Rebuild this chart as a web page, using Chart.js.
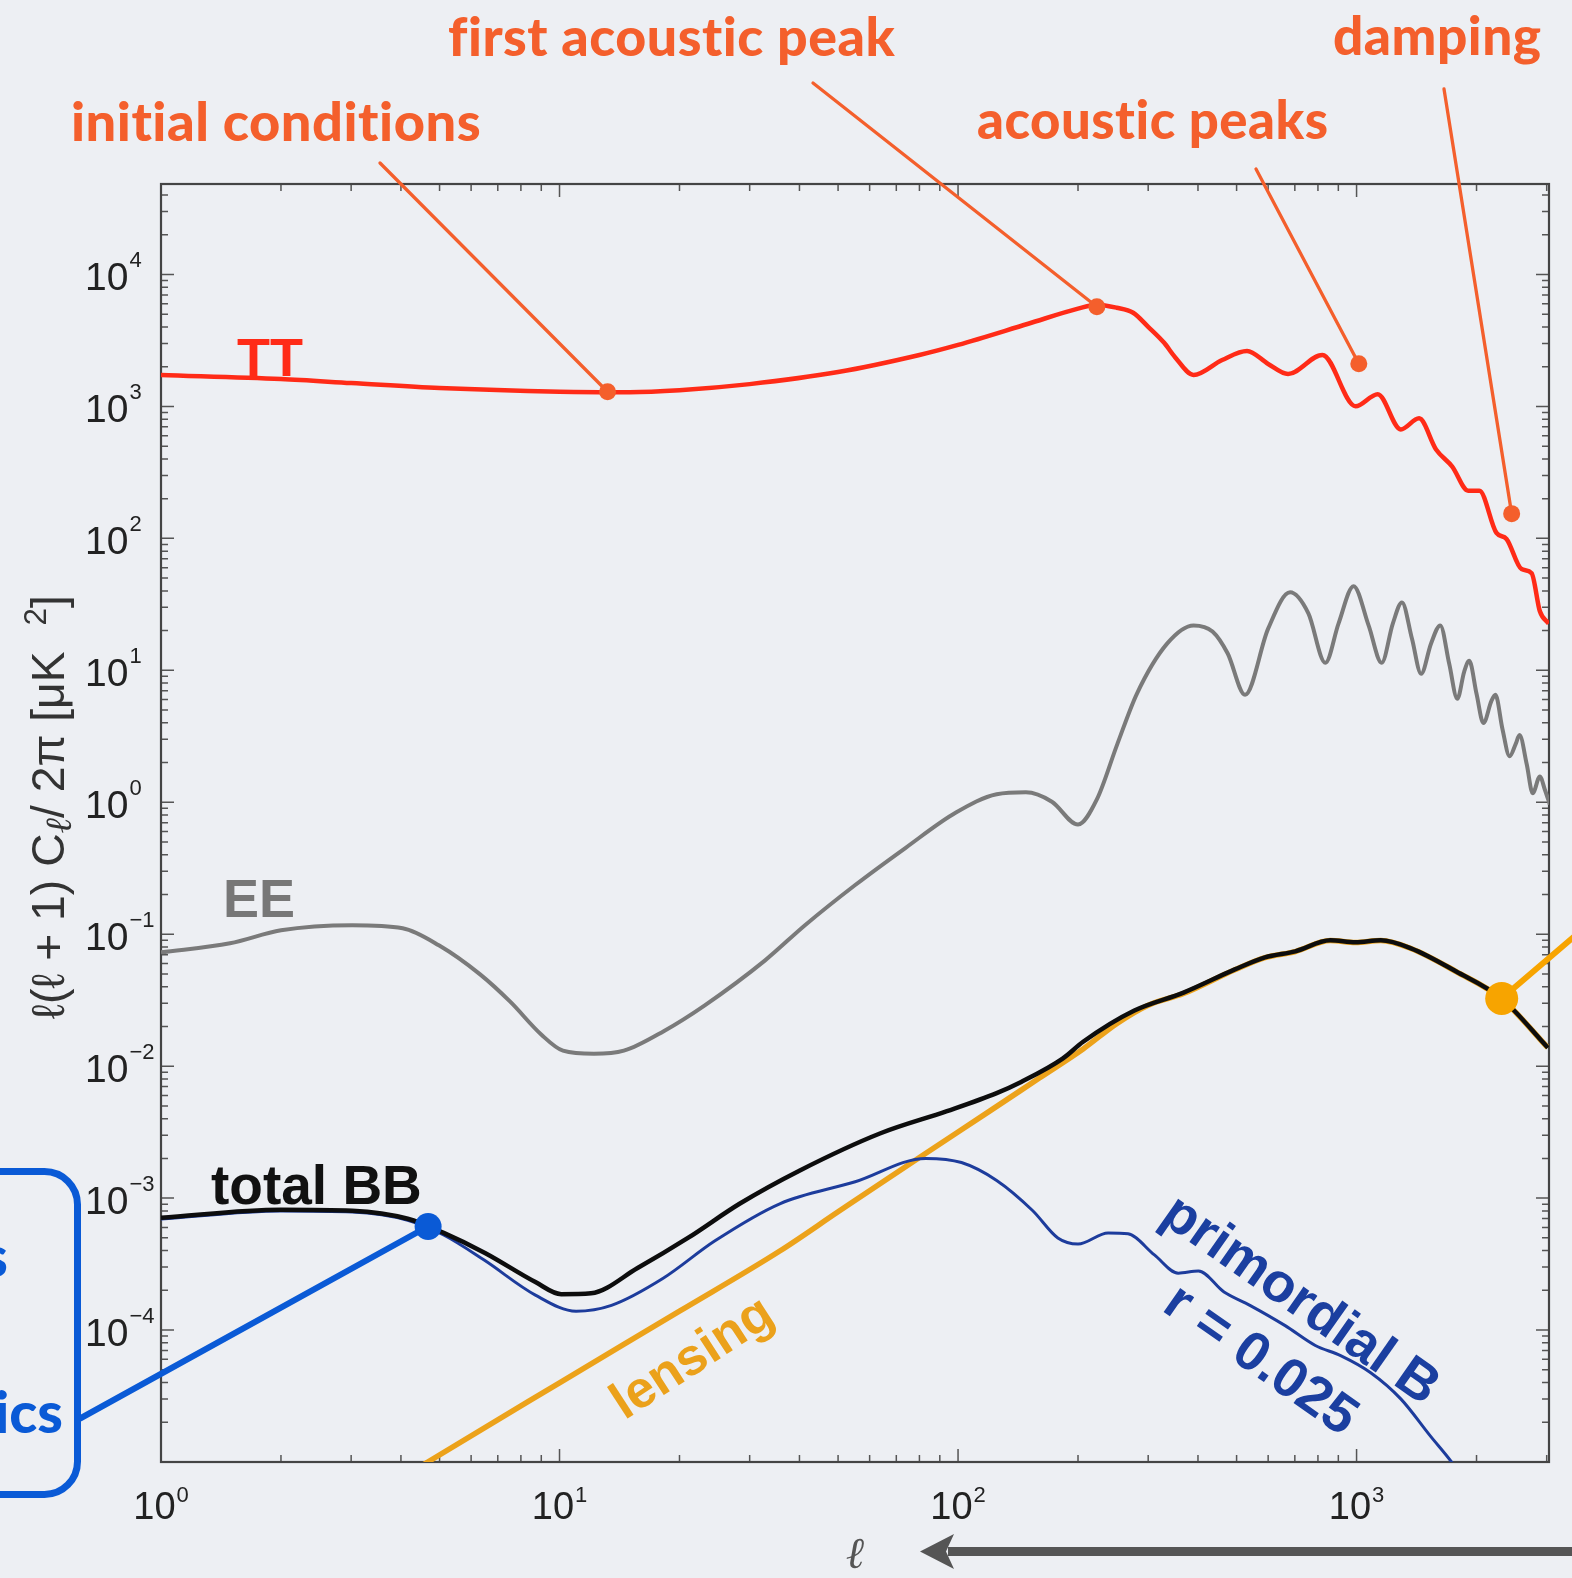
<!DOCTYPE html>
<html>
<head>
<meta charset="utf-8">
<script src="https://cdn.jsdelivr.net/npm/chart.js@4.4.1/dist/chart.umd.min.js"></script>
<style>
  body { margin: 0; background: #edeff3; }
  #wrap { width: 1572px; height: 1578px; position: relative; }
</style>
</head>
<body>
<div id="wrap"><canvas id="cmb"></canvas></div>
<script>
// CMB power spectra, l(l+1)C_l/2pi in uK^2
const ttL = [1, 2, 3, 5, 10, 15, 20, 30, 50, 80, 100, 150, 200, 223, 250, 275, 300, 329, 350, 390, 460, 531, 600, 673, 821, 994, 1130, 1291, 1435, 1583, 1738, 1906, 2033, 2244, 2378, 2594, 2750, 2884, 3035];
const ttV = [1730, 1611, 1503, 1377, 1294, 1283, 1328, 1476, 1822, 2455, 2926, 4234, 5506, 5906, 5600, 5129, 4015, 3034, 2371, 1730, 2249, 2634, 2099, 1759, 2455, 1003, 1239, 670, 813, 472, 350, 230, 230, 110, 99, 58.5, 54.5, 28, 22.6];

const eeL = [1, 1.49, 2, 3.02, 4.04, 4.98, 6.32, 7.52, 9.01, 10.2, 12.2, 14.5, 18.3, 23.1, 32.8, 41.3, 55.2, 73.9, 98.8, 125, 148, 172, 200, 223, 251, 281, 335, 390, 435, 475, 525, 600, 681, 757, 835, 901, 983, 1072, 1156, 1233, 1300, 1377, 1452, 1538, 1622, 1708, 1790, 1862, 1918, 2000, 2081, 2180, 2231, 2323, 2421, 2507, 2564, 2673, 2767, 2884, 2967, 3055];
const eeV = [0.0729, 0.0853, 0.107, 0.117, 0.111, 0.0824, 0.0496, 0.0308, 0.0173, 0.0131, 0.0124, 0.0131, 0.0185, 0.0288, 0.0634, 0.117, 0.236, 0.452, 0.836, 1.15, 1.19, 1.01, 0.678, 1.05, 2.76, 6.64, 16.0, 21.9, 19.7, 13.4, 6.52, 20.7, 39.0, 27.0, 11.4, 22.6, 43.4, 21.9, 11.4, 22.6, 32.7, 17.4, 9.42, 16.0, 21.9, 11.2, 6.08, 9.75, 11.8, 6.64, 3.99, 5.86, 6.52, 3.59, 2.23, 2.76, 3.23, 1.94, 1.17, 1.57, 1.25, 0.962];

const bbL = [1, 2, 3.02, 4.16, 5.12, 6.5, 8.7, 10.1, 12.0, 15.7, 21.0, 28.3, 40.1, 63.9, 93.8, 125, 144, 183, 206, 277, 368, 495, 589, 702, 859, 994, 1150, 1369, 1778, 2312, 3020];
const bbV = [7.10e-4, 8.17e-4, 8.02e-4, 6.97e-4, 5.45e-4, 3.84e-4, 2.31e-4, 1.87e-4, 1.90e-4, 2.95e-4, 4.99e-4, 9.06e-4, 1.62e-3, 3.10e-3, 4.56e-3, 6.25e-3, 7.59e-3, 0.0114, 0.0153, 0.0264, 0.0361, 0.0541, 0.0668, 0.0742, 0.0899, 0.0869, 0.0899, 0.0782, 0.0522, 0.0325, 0.0138];

const lensL = [4, 4.67, 10, 20, 35.7, 50, 80.7, 120, 160, 206, 250, 300, 368, 495, 589, 702, 859, 994, 1150, 1369, 1778, 2312, 3020];
const lensV = [7.5e-6, 1.0e-5, 3.98e-5, 1.39e-4, 3.97e-4, 7.87e-4, 2.07e-3, 4.56e-3, 8.13e-3, 0.0135, 0.021, 0.029, 0.0355, 0.0538, 0.0665, 0.0739, 0.0896, 0.0866, 0.0896, 0.0780, 0.0521, 0.0324, 0.0138];

const primL = [1, 2, 3.02, 4.16, 5.12, 6.47, 8.70, 11.0, 13.5, 18.2, 24.5, 35.7, 55.2, 83.0, 102, 125, 154, 178, 200, 238, 267, 311, 357, 401, 465, 540, 662, 788, 912, 1085, 1291, 1538, 1727, 1850];
const primV = [6.95e-4, 8.0e-4, 7.85e-4, 6.8e-4, 5.25e-4, 3.39e-4, 1.84e-4, 1.39e-4, 1.54e-4, 2.47e-4, 4.73e-4, 9.06e-4, 1.33e-3, 2.00e-3, 1.86e-3, 1.36e-3, 8.02e-4, 4.99e-4, 4.49e-4, 5.45e-4, 5.36e-4, 3.71e-4, 2.70e-4, 2.80e-4, 1.94e-4, 1.54e-4, 1.08e-4, 7.64e-5, 6.40e-5, 4.75e-5, 3.01e-5, 1.55e-5, 1.01e-5, 7.5e-6];

// points picked out by the callouts [l, value]
const markInitial = [13.2, 1292];
const markFirstPeak = [223, 5690];
const markPeaks = [1013, 2104];
const markDamping = [2450, 154];
const markBB = [4.68, 6.1e-4];
const markLens = [2313, 0.0326];

const xTickExp = [0, 1, 2, 3];
const yTickExp = [-4, -3, -2, -1, 0, 1, 2, 3, 4];

const pts = (ls, vs) => ls.map((l, i) => ({x: l, y: vs[i]}));

const SANS = '"Liberation Sans", Arial, sans-serif';
const GILL = 'Lato, "Open Sans", sans-serif';
const ORANGE = '#f45f2c';

function supText(exp) {
  return exp < 0 ? '\u2212' + (-exp) : String(exp);
}

function fitFont(ctx, text, weight, family, width) {
  ctx.font = weight + ' 100px ' + family;
  return 100 * width / ctx.measureText(text).width;
}

function dot(ctx, x, y, r, color) {
  ctx.beginPath();
  ctx.arc(x, y, r, 0, Math.PI * 2);
  ctx.fillStyle = color;
  ctx.fill();
}

function line(ctx, x1, y1, x2, y2, w, color) {
  ctx.beginPath();
  ctx.moveTo(x1, y1);
  ctx.lineTo(x2, y2);
  ctx.lineWidth = w;
  ctx.strokeStyle = color;
  ctx.lineCap = 'round';
  ctx.stroke();
}

function rotText(ctx, text, cx, cy, deg, font, color) {
  ctx.save();
  ctx.translate(cx, cy);
  ctx.rotate(deg * Math.PI / 180);
  ctx.font = font;
  ctx.fillStyle = color;
  ctx.textAlign = 'center';
  ctx.textBaseline = 'middle';
  ctx.fillText(text, 0, 0);
  ctx.restore();
}

const frame = {
  id: 'frame',
  beforeDraw(chart) {
    const ctx = chart.ctx;
    ctx.save();
    ctx.fillStyle = '#edeff3';
    ctx.fillRect(0, 0, chart.width, chart.height);
    ctx.restore();
  },
  beforeDatasetsDraw(chart) {
    const ctx = chart.ctx, a = chart.chartArea;
    const xs = chart.scales.x, ys = chart.scales.y;
    ctx.save();
    ctx.strokeStyle = '#555';
    ctx.lineWidth = 1.5;
    // x ticks, bottom and top, pointing inwards
    for (let e = 0; e <= 3; e++) {
      for (let k = 1; k <= 9; k++) {
        const v = k * Math.pow(10, e);
        if (v > xs.max) break;
        const px = xs.getPixelForValue(v);
        const len = k === 1 ? 13 : 7;
        ctx.beginPath();
        ctx.moveTo(px, a.bottom); ctx.lineTo(px, a.bottom - len);
        ctx.moveTo(px, a.top); ctx.lineTo(px, a.top + len);
        ctx.stroke();
      }
    }
    for (let e = -5; e <= 4; e++) {
      for (let k = 1; k <= 9; k++) {
        const v = k * Math.pow(10, e);
        if (v > ys.max) break;
        const py = ys.getPixelForValue(v);
        const len = k === 1 ? 13 : 7;
        ctx.beginPath();
        ctx.moveTo(a.left, py); ctx.lineTo(a.left + len, py);
        ctx.moveTo(a.right, py); ctx.lineTo(a.right - len, py);
        ctx.stroke();
      }
    }
    ctx.lineWidth = 2.2;
    ctx.strokeStyle = '#444';
    ctx.strokeRect(a.left, a.top, a.right - a.left, a.bottom - a.top);

    // tick labels 10^n
    ctx.fillStyle = '#222';
    ctx.textBaseline = 'alphabetic';
    ctx.textAlign = 'left';
    yTickExp.forEach(e => {
      const py = ys.getPixelForValue(Math.pow(10, e));
      ctx.font = '39px ' + SANS;
      ctx.fillText('10', 85, py + 15.5);
      const w = ctx.measureText('10').width;
      ctx.font = '22px ' + SANS;
      ctx.fillText(supText(e), 85 + w + 1, py - 7);
    });
    xTickExp.forEach(e => {
      const px = xs.getPixelForValue(Math.pow(10, e));
      ctx.font = '38px ' + SANS;
      const w1 = ctx.measureText('10').width;
      ctx.font = '22px ' + SANS;
      const w2 = ctx.measureText(supText(e)).width;
      const x0 = px - (w1 + w2 + 1) / 2;
      ctx.font = '38px ' + SANS;
      ctx.fillText('10', x0, 1519);
      ctx.font = '22px ' + SANS;
      ctx.fillText(supText(e), x0 + w1 + 1, 1502);
    });

    // y axis title with sub/superscript, scaled to the reference length
    const parts = [
      ['\u2113(\u2113 + 1) C', SANS, 1, 0],
      ['\u2113', '"DejaVu Serif", serif', 0.8, 0.15],
      ['/ 2\u03c0 [\u03bcK  ', SANS, 1, 0],
      ['2', SANS, 0.68, -0.38],
      [']', SANS, 1, 0]
    ];
    let total = 0;
    parts.forEach(p => { ctx.font = (p[2] * 100) + 'px ' + p[1]; total += ctx.measureText(p[0]).width; });
    const fs = 100 * 426 / total;
    ctx.translate(47, 806);
    ctx.rotate(-Math.PI / 2);
    ctx.fillStyle = '#333';
    let cx = -213;
    parts.forEach(p => {
      ctx.font = (p[1].indexOf('Serif') > 0 ? 'italic ' : '') + (p[2] * fs).toFixed(1) + 'px ' + p[1];
      ctx.fillText(p[0], cx, fs * 0.36 + p[3] * fs);
      cx += ctx.measureText(p[0]).width;
    });
    ctx.restore();
  },
  afterDatasetsDraw(chart) {
    const ctx = chart.ctx;
    const xs = chart.scales.x, ys = chart.scales.y;
    const P = m => [xs.getPixelForValue(m[0]), ys.getPixelForValue(m[1])];
    ctx.save();

    // curve labels inside the plot
    ctx.textAlign = 'left';
    ctx.textBaseline = 'alphabetic';
    ctx.font = 'bold 54px ' + SANS;
    ctx.fillStyle = '#ff2b17';
    ctx.fillText('TT', 237, 376);
    ctx.fillStyle = '#777';
    ctx.fillText('EE', 223, 917);
    ctx.font = 'bold 55px ' + SANS;
    ctx.fillStyle = '#111';
    ctx.fillText('total BB', 211, 1204);
    rotText(ctx, 'lensing', 693, 1359, -33, 'bold 52px ' + SANS, '#eba11b');
    rotText(ctx, 'primordial B', 1300, 1301, 35, 'bold 55px ' + SANS, '#1b3fa0');
    rotText(ctx, 'r = 0.025', 1260, 1361, 35, 'bold 55px ' + SANS, '#1b3fa0');

    // orange headline labels
    const heads = [
      ['initial conditions', 71, 141, 406],
      ['first acoustic peak', 448, 56, 443],
      ['acoustic peaks', 977, 139, 348],
      ['damping', 1333, 55, 207]
    ];
    ctx.fillStyle = ORANGE;
    ctx.letterSpacing = '0.5px';
    heads.forEach(h => {
      const size = fitFont(ctx, h[0], '900', GILL, h[3]);
      ctx.font = '900 ' + size.toFixed(1) + 'px ' + GILL;
      ctx.fillText(h[0], h[1], h[2]);
    });
    ctx.letterSpacing = '0px';

    // callouts to the TT curve
    const tt = [[markInitial, 380, 163], [markFirstPeak, 813, 83], [markPeaks, 1256, 169], [markDamping, 1444, 89]];
    tt.forEach(c => {
      const p = P(c[0]);
      line(ctx, c[1], c[2], p[0], p[1], 3.3, ORANGE);
      dot(ctx, p[0], p[1], 8.5, ORANGE);
    });

    // lensing callout off to the right
    const pl = P(markLens);
    line(ctx, pl[0], pl[1], 1590, 923, 6, '#f7a400');
    dot(ctx, pl[0], pl[1], 16.5, '#f7a400');

    // blue box and callout on the left
    const blue = '#0a5ad6';
    ctx.lineWidth = 7;
    ctx.strokeStyle = blue;
    ctx.beginPath();
    ctx.roundRect(-120, 1171.5, 197.5, 323, 33);
    ctx.stroke();
    ctx.font = '900 58px ' + GILL;
    ctx.fillStyle = blue;
    ctx.textAlign = 'right';
    ctx.fillText('s', 8, 1277);
    ctx.fillText('ics', 63, 1433);
    const pb = P(markBB);
    line(ctx, 81, 1418, pb[0], pb[1], 6, blue);
    dot(ctx, pb[0], pb[1], 13.5, blue);

    // axis label and arrow
    ctx.textAlign = 'center';
    ctx.font = 'italic 44px "DejaVu Serif", serif';
    ctx.fillStyle = '#555';
    ctx.fillText('\u2113', 855, 1568);
    ctx.fillRect(948, 1547, 640, 9);
    ctx.beginPath();
    ctx.moveTo(920, 1551.5);
    ctx.lineTo(954, 1534);
    ctx.lineTo(946, 1551.5);
    ctx.lineTo(954, 1569);
    ctx.closePath();
    ctx.fill();
    ctx.restore();
  }
};

const series = (data, color, width, order) => ({
  data, borderColor: color, borderWidth: width, order,
  pointRadius: 0, cubicInterpolationMode: 'monotone', fill: false
});

new Chart(document.getElementById('cmb'), {
  type: 'line',
  data: {
    datasets: [
      series(pts(bbL, bbV), '#0d0d0d', 4.5, 0),
      series(pts(ttL, ttV), '#ff2b17', 4.5, 1),
      series(pts(eeL, eeV), '#7a7a7a', 4, 2),
      series(pts(primL, primV), '#1d3c9c', 3, 3),
      series(pts(lensL, lensV), '#eca21a', 5.5, 4)
    ]
  },
  options: {
    responsive: true,
    maintainAspectRatio: false,
    animation: false,
    layout: { padding: { left: 161, right: 23, top: 184, bottom: 116 } },
    scales: {
      x: { type: 'logarithmic', min: 1, max: 3040, display: false },
      y: { type: 'logarithmic', min: 1e-5, max: 4.85e4, display: false }
    },
    plugins: { legend: { display: false }, tooltip: { enabled: false } }
  },
  plugins: [frame]
});
</script>
</body>
</html>
